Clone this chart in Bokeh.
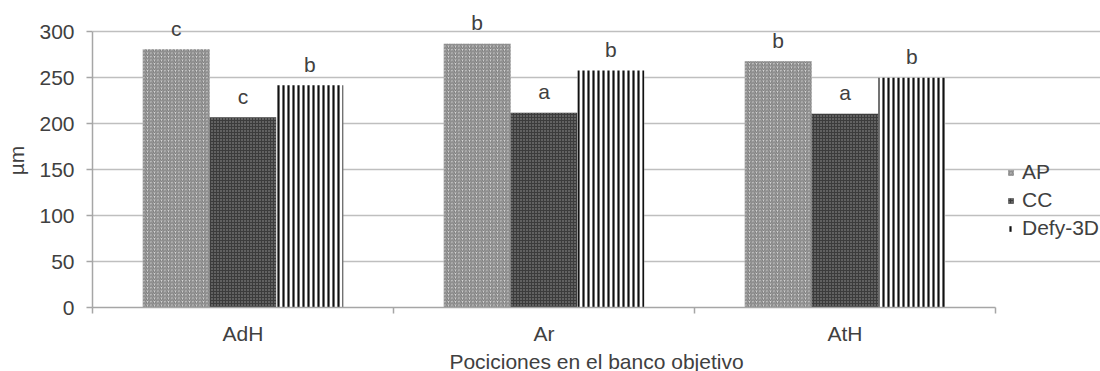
import numpy as np
from bokeh.plotting import figure
from bokeh.models import ColumnDataSource, Range1d, FixedTicker, Legend, LegendItem
from bokeh.core.properties import value
from bokeh.embed import file_html
from bokeh.resources import INLINE

categories = ["AdH", "Ar", "AtH"]
series = ["AP", "CC", "Defy-3D"]
ap = [281, 287, 268]
cc = [207, 212, 211]
defy = [242, 258, 250]
letters_ap = ["c", "b", "b"]
letters_cc = ["c", "a", "a"]
letters_defy = ["b", "b", "b"]
y_ticks = [0, 50, 100, 150, 200, 250, 300]

FONT = "Liberation Sans"
TXT = "#404040"
GRID = "#bfbfbf"
FS = "21px"

n = len(categories)
# frame extends to the right edge so the legend can sit beside the plot area
x_end = n * (1100 - 92) / 903

p = figure(width=1100, height=387, output_backend="svg", toolbar_location=None,
           x_range=Range1d(0, x_end), y_range=Range1d(0, 320),
           min_border_left=92, min_border_right=0, min_border_top=13, min_border_bottom=80)
p.outline_line_color = None
p.background_fill_color = "white"
p.border_fill_color = "white"

idx = np.arange(n)
bw = 0.222
offsets = [-bw, 0.0, bw]
vals = [ap, cc, defy]
labs = [letters_ap, letters_cc, letters_defy]
styles = [
    dict(fill_color="#d9d9d9", hatch_pattern="right_diagonal_line", hatch_color="#7a7a7a",
         hatch_scale=3.5, hatch_weight=1.2),
    dict(fill_color="#3c3c3c", hatch_pattern="dot", hatch_color="#9a9a9a",
         hatch_scale=3, hatch_weight=1),
    dict(fill_color="white", hatch_pattern="vertical_line", hatch_color="#111111",
         hatch_scale=5, hatch_weight=2.2),
]

renderers = []
for name, v, lab, off, st in zip(series, vals, labs, offsets, styles):
    src = ColumnDataSource(dict(x=idx + 0.5 + off, top=v, lab=lab))
    r = p.vbar(x="x", top="top", width=bw, source=src, line_color=None, **st)
    renderers.append((name, r))
    p.text(x="x", y="top", text="lab", source=src, y_offset=-21,
           text_align="center", text_baseline="middle",
           text_font=value(FONT), text_font_size=FS, text_color=TXT)

legend = Legend(items=[LegendItem(label=nm, renderers=[r]) for nm, r in renderers],
                location=(915, 67), padding=0, margin=0, spacing=4,
                glyph_width=7, glyph_height=7, label_height=22, label_standoff=8,
                label_text_font=FONT, label_text_font_size=FS, label_text_color=TXT,
                border_line_color=None, background_fill_alpha=0)
p.add_layout(legend)

# axes
p.xaxis.ticker = FixedTicker(ticks=list(idx + 0.5), minor_ticks=list(range(n + 1)))
p.xaxis.major_label_overrides = {float(i + 0.5): c for i, c in enumerate(categories)}
p.xaxis.bounds = (0, n)
p.xaxis.major_tick_out = 0
p.xaxis.major_tick_in = 0
p.xaxis.minor_tick_out = 6
p.xaxis.minor_tick_in = 0
p.xaxis.minor_tick_line_color = "#a6a6a6"
p.xaxis.minor_tick_line_width = 1.5
p.xaxis.axis_line_color = "#a6a6a6"
p.xaxis.axis_line_width = 1.5
p.xaxis.major_label_standoff = 8
p.xaxis.axis_label = "Pociciones en el banco objetivo"
p.xaxis.axis_label_standoff = 2

p.yaxis.ticker = FixedTicker(ticks=y_ticks)
p.yaxis.bounds = (0, 300)
p.yaxis.major_tick_out = 6
p.yaxis.major_tick_in = 0
p.yaxis.minor_tick_line_color = None
p.yaxis.major_tick_line_color = "#a6a6a6"
p.yaxis.major_tick_line_width = 1.5
p.yaxis.axis_line_color = "#a6a6a6"
p.yaxis.axis_line_width = 1.5
p.yaxis.major_label_standoff = 12
p.yaxis.axis_label = "µm"
p.yaxis.axis_label_standoff = 8

for ax in (p.xaxis, p.yaxis):
    ax.major_label_text_font = FONT
    ax.major_label_text_font_size = FS
    ax.major_label_text_color = TXT
    ax.axis_label_text_font = FONT
    ax.axis_label_text_font_size = FS
    ax.axis_label_text_font_style = "normal"
    ax.axis_label_text_color = TXT

p.xgrid.grid_line_color = None
p.ygrid.ticker = FixedTicker(ticks=y_ticks)
p.ygrid.bounds = (0, n)
p.ygrid.grid_line_color = GRID
p.ygrid.grid_line_width = 1.5
p.ygrid.level = "underlay"

open("out.html", "w").write(file_html(p, INLINE))
